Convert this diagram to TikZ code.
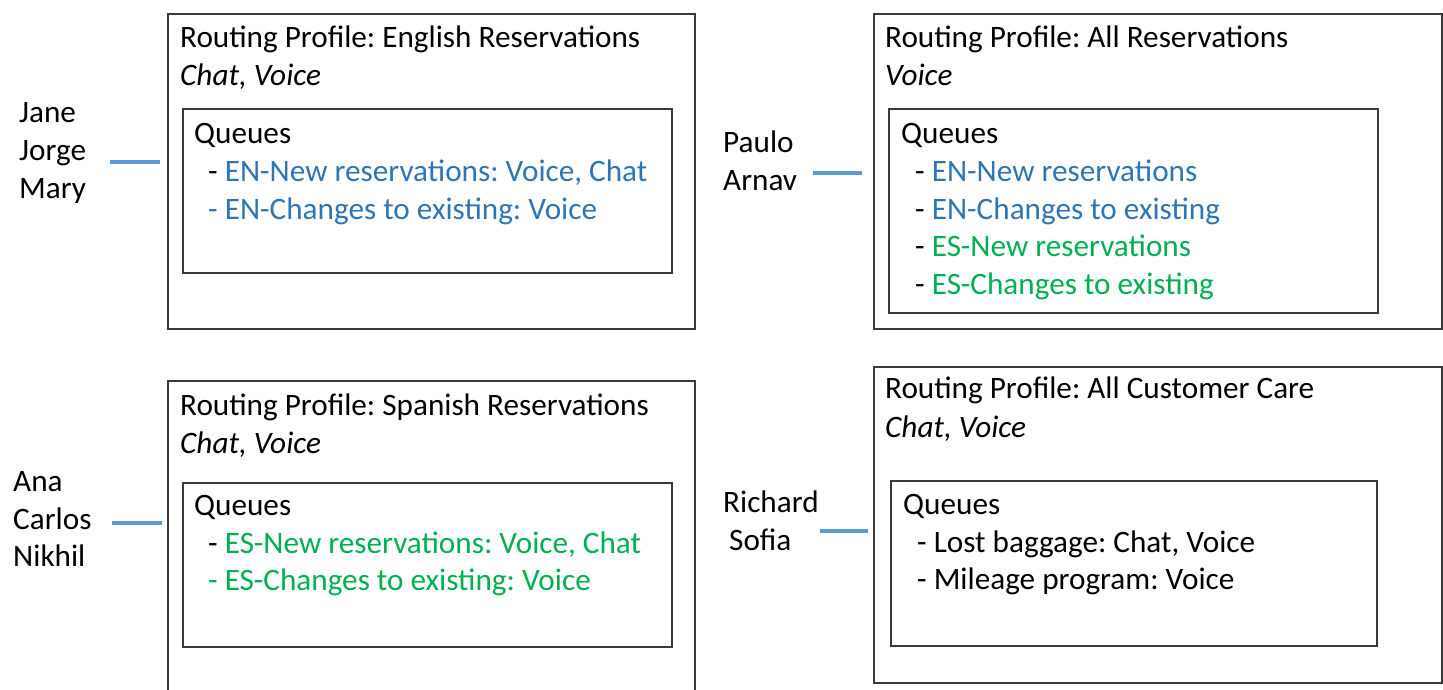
\documentclass[tikz,border=0pt]{standalone}
\usepackage{fontspec}
\setmainfont{Carlito}
\frenchspacing
\definecolor{enblue}{HTML}{2E75B6}
\definecolor{esgreen}{HTML}{00B050}
\definecolor{linkblue}{HTML}{5B9BD5}
\definecolor{boxgray}{HTML}{3A3A3A}
\begin{document}
\begin{tikzpicture}[x=1pt,y=-1pt,
  box/.style={draw=boxgray,line width=1.6pt,inner sep=0pt,anchor=north west},
  txt/.style={anchor=base west,inner sep=0pt,font=\fontsize{31.2}{36}\selectfont},
  link/.style={draw=linkblue,line width=3.6pt}]
\useasboundingbox (0,0) rectangle (1443,689);
\clip (0,0) rectangle (1443,689);
% boxes
\node[box,minimum width=527pt,minimum height=315pt] (b1) at (167,13) {};
\node[box,minimum width=489pt,minimum height=164pt] (q1) at (182,108) {};
\node[box,minimum width=568pt,minimum height=315pt] (b2) at (873,13) {};
\node[box,minimum width=489pt,minimum height=204pt] (q2) at (888,108) {};
\node[box,minimum width=527pt,minimum height=330pt] (b3) at (167,380) {};
\node[box,minimum width=489pt,minimum height=164pt] (q3) at (182,482) {};
\node[box,minimum width=568pt,minimum height=316pt] (b4) at (873,366) {};
\node[box,minimum width=486pt,minimum height=165pt] (q4) at (890,480) {};
% box 1
\node[txt] (t1) at (180,47) {Routing Profile: English Reservations};
\node[txt] (c1) at (180,85) {\itshape Chat, Voice};
\node[txt] (h1) at (194,143) {Queues};
\node[txt] (i11) at (208,181) {- \textcolor{enblue}{EN-New reservations: Voice, Chat}};
\node[txt,text=enblue] (i12) at (208,219) {- EN-Changes to existing: Voice};
% box 2
\node[txt] (t2) at (885,47) {Routing Profile: All Reservations};
\node[txt] (c2) at (885,85) {\itshape Voice};
\node[txt] (h2) at (901,143) {Queues};
\node[txt] (i21) at (915,181) {- \textcolor{enblue}{EN-New reservations}};
\node[txt] (i22) at (915,219) {- \textcolor{enblue}{EN-Changes to existing}};
\node[txt] (i23) at (915,256) {- \textcolor{esgreen}{ES-New reservations}};
\node[txt] (i24) at (915,294) {- \textcolor{esgreen}{ES-Changes to existing}};
% box 3
\node[txt] (t3) at (180,415) {Routing Profile: Spanish Reservations};
\node[txt] (c3) at (180,453) {\itshape Chat, Voice};
\node[txt] (h3) at (194,515) {Queues};
\node[txt] (i31) at (208,553) {- \textcolor{esgreen}{ES-New reservations: Voice, Chat}};
\node[txt,text=esgreen] (i32) at (208,590) {- ES-Changes to existing: Voice};
% box 4
\node[txt] (t4) at (885,398) {Routing Profile: All Customer Care};
\node[txt] (c4) at (885,437) {\itshape Chat, Voice};
\node[txt] (h4) at (903,514) {Queues};
\node[txt] (i41) at (917,552) {- Lost baggage: Chat, Voice};
\node[txt] (i42) at (917,589) {- Mileage program: Voice};
% names
\node[txt] (n1) at (19,122) {Jane};
\node[txt] (n2) at (19,160) {Jorge};
\node[txt] (n3) at (19,198) {Mary};
\node[txt] (n4) at (723,152) {Paulo};
\node[txt] (n5) at (723,190) {Arnav};
\node[txt] (n6) at (13,491) {Ana};
\node[txt] (n7) at (13,529) {Carlos};
\node[txt] (n8) at (13,566) {Nikhil};
\node[txt] (n9) at (723,512) {Richard};
\node[txt] (n10) at (729,550) {Sofia};
% connectors
\coordinate (s1) at (110,162);
\coordinate (s2) at (813,173);
\coordinate (s3) at (112,523);
\coordinate (s4) at (820,531);
\draw[link,shorten >=7pt] (s1) -- (s1 -| b1.west);
\draw[link,shorten >=11pt] (s2) -- (s2 -| b2.west);
\draw[link,shorten >=5pt] (s3) -- (s3 -| b3.west);
\draw[link,shorten >=5pt] (s4) -- (s4 -| b4.west);
\end{tikzpicture}
\end{document}
